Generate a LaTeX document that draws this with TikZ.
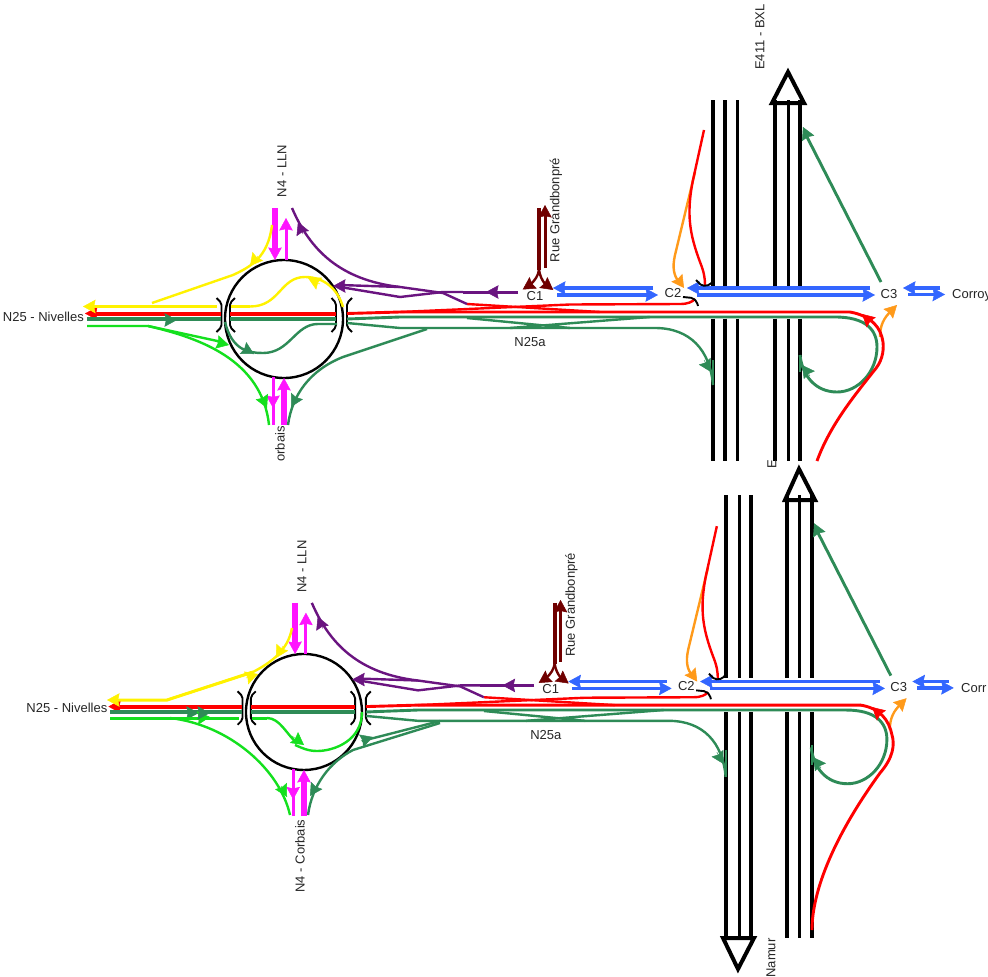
\documentclass[tikz,border=0pt]{standalone}
\usepackage{fontspec}
\setmainfont{Liberation Sans}
\usetikzlibrary{arrows.meta}
\definecolor{dgreen}{HTML}{2E8B57}
\definecolor{bgreen}{HTML}{14E01E}
\definecolor{road}{HTML}{FF0000}
\definecolor{ored}{HTML}{FF9A1A}
\definecolor{blu}{HTML}{3366FF}
\definecolor{purp}{HTML}{6A1480}
\definecolor{maro}{HTML}{700000}
\definecolor{yell}{HTML}{FFF200}
\definecolor{mage}{HTML}{FF14FF}
\tikzset{
  ah/.style={-{Stealth[length=12.5pt,width=13.5pt,inset=1.5pt]}},
  roadline/.style={line width=2.4pt},
  wideline/.style={line width=2.9pt},
  mainline/.style={line width=4pt},
  lane/.style={line width=4pt,black},
  lanethin/.style={line width=3pt,black},
  brack/.style={line width=1.9pt,black,rounded corners=2pt},
  lbl/.style={font=\fontsize{13}{13}\selectfont,text=black!85,inner sep=0pt},
  vlbl/.style={lbl,rotate=90},
}
\newcommand{\tipat}[3]{\draw[#1,ah,line width=.5pt] (#2) -- (#3);}
% parts that both panels share
\newcommand{\junction}{%
  \draw[black,line width=2.4pt] (284,319) circle (59);
  \foreach \a/\b in {216.5/221.5,352/347,235/230,331.5/336}{
    \draw[brack] (\a,298) -- (\b,303) -- (\b,327) -- (\a,332);}
  % N4
  \draw[mage,line width=6pt] (275,208) -- (275,250);
  \tipat{mage}{275,245}{275,260}
  \draw[mage,line width=3pt] (286,260) -- (286,225);
  \tipat{mage}{286,231}{286,218}
  \draw[mage,line width=3pt] (273,377) -- (273,425);
  \tipat{mage}{273,395}{273,408}
  \draw[mage,line width=6pt] (284,425) -- (284,386);
  \tipat{mage}{284,392}{284,378}
  % N25 through lanes
  \draw[road,mainline] (92,313.5) -- (221,313.5) (230,313.5) -- (336,313.5);
  \tipat{road}{97,313.5}{85,313.5}
  \draw[dgreen,mainline] (87,319) -- (221,319) (230,319) -- (336,319);
  \tipat{dgreen}{165,320}{177,320}
  % N25a, red
  \draw[road,wideline] (347,313.5) -- (400,312) -- (850,312);
  \draw[road,roadline] (400,312) -- (570,304.5) -- (680,304) .. controls (688,304) and (692,302) .. (695,299);
  \draw[road,roadline] (467,304) -- (600,312);
  % N25a, green
  \draw[dgreen,wideline] (347,319) -- (400,317) -- (835,317)
     .. controls (866,317) and (877,330) .. (877,347)
     .. controls (877,372) and (858,392) .. (837,392)
     .. controls (815,392) and (802,375) .. (800,355);
  \tipat{dgreen}{810,376}{802,365}
  \draw[dgreen,roadline] (347,323) -- (400,328) -- (655,328)
     .. controls (690,328) and (710,350) .. (713,385);
  \tipat{dgreen}{704,360}{711,372}
  \draw[dgreen,roadline] (467,318) -- (570,328) (510,328) -- (650,317);
  % purple
  \draw[purp,line width=3pt] (518,292) -- (463,292);
  \tipat{purp}{498,292}{486,292}
  \draw[purp,roadline] (467,304) -- (443,293) -- (400,287) -- (340,285);
  \draw[purp,roadline] (463,292) -- (443,292) -- (400,297) -- (340,287);
  \tipat{purp}{345,286}{333,286}
  \draw[purp,roadline] (400,287) .. controls (340,280) and (310,250) .. (292,208);
  \tipat{purp}{303,234}{298,222}
  % maroon
  \draw[maro,line width=4pt] (539,208) -- (539,270);
  \draw[maro,line width=3pt] (545,268) -- (545,215);
  \tipat{maro}{545,218}{545,205}
  \draw[maro,roadline] (539,270) .. controls (538,276) and (535,280) .. (531,284);
  \tipat{maro}{532,283.5}{522.7,289.5}
  \draw[maro,roadline] (539,270) .. controls (540,276) and (542,280) .. (545,284);
  \tipat{maro}{544,283}{553.3,290}
  % blue
  \draw[blu,line width=3.2pt] (653,288) -- (562,288);
  \tipat{blu}{566,288}{553,288}
  \draw[blu,line width=3.2pt] (557,295) -- (648,295);
  \tipat{blu}{645,295}{658,295}
  \draw[blu,line width=3.2pt] (870,288) -- (697,288);
  \tipat{blu}{700,288}{687,288}
  \draw[blu,line width=3.2pt] (697,295) -- (865,295);
  \tipat{blu}{862,295}{875,295}
  \draw[blu,line width=3.2pt] (940,288) -- (912,288);
  \tipat{blu}{916,288}{903,288}
  \draw[blu,line width=3.2pt] (908,294.5) -- (935,294.5);
  \tipat{blu}{932,294.5}{945,294.5}
  % orange and red at C2
  \draw[ored,roadline] (695,172) -- (675,255) .. controls (672,268) and (674,276) .. (679,282);
  \tipat{ored}{677,278}{684,288}
  \draw[road,roadline] (704,130) -- (693,180) .. controls (686,215) and (690,235) .. (700,262) .. controls (704,272) and (705,278) .. (705,285);
  \draw[brack] (696,280) -- (702,286) -- (710,285) -- (712,282);
  \draw[brack] (683,297) -- (693,298) -- (697,302) -- (698,306);
  % C3
  \draw[ored,roadline] (880,337) .. controls (880,325) and (884,318) .. (891,311);
  \tipat{ored}{888,314}{897,305}
  \tipat{road}{873,324}{862,314}
  \draw[dgreen,wideline] (881,282) -- (806,135);
  \tipat{dgreen}{808,138}{803,127}
  % labels
  \node[vlbl] (lln) at (282,171) {N4 - LLN};
  \node[vlbl] (grand) at (556,210) {Rue Grandbonpré};
  \node[lbl] (c1) at (535,296) {C1};
  \node[lbl] (c2) at (673,293) {C2};
  \node[lbl] (c3) at (889,294) {C3};
  \node[lbl] (n25a) at (530,342) {N25a};
}
\begin{document}
\begin{tikzpicture}[x=1pt,y=-1pt]
\useasboundingbox (0,0) rectangle (988,977);
\clip (0,0) rectangle (988,977);
\fill[white] (0,0) rectangle (988,977);

% ---------- upper panel ----------
\foreach \x/\s in {713/lane,725/lane,737/lanethin,775/lane,788/lanethin,800/lane}{
  \draw[\s] (\x,100) -- (\x,287) (\x,318.5) -- (\x,461);}
\draw[black,line width=4pt,line join=miter] (788,72) -- (804,103) -- (772,103) -- cycle;
\junction
\draw[dgreen,wideline] (713,360) -- (713,385);
\draw[dgreen,wideline] (800,355) -- (800,372);
% red from the south
\draw[road,wideline] (817,461) .. controls (830,425) and (855,395) .. (873,372)
  .. controls (882,362) and (884,352) .. (883,342) .. controls (881,328) and (872,316) .. (850,312);
% yellow
\draw[yell,line width=3pt] (92,306.5) -- (217,306.5) (231,306.5) -- (250,306.5);
\tipat{yell}{96,306.5}{83,306.5}
\draw[yell,roadline] (343,307) .. controls (338,290) and (325,277) .. (305,277)
  .. controls (280,277) and (280,306.5) .. (250,306.5);
\tipat{yell}{320,284}{308,278}
\draw[yell,roadline] (272,225) .. controls (268,258) and (250,267) .. (233,275) -- (152,303);
\tipat{yell}{258,256}{250,266}
% bright green
\draw[bgreen,roadline] (87,326) -- (148,326) -- (222,342);
\tipat{bgreen}{217,342}{229,345}
\draw[bgreen,roadline] (148,326) .. controls (200,338) and (262,360) .. (269,425);
\tipat{bgreen}{262,397}{267,408}
% green inside the circle
\draw[dgreen,roadline] (337,324) -- (318,324) .. controls (295,324) and (290,353) .. (263,353)
  .. controls (248,353) and (232,350) .. (225,322);
\tipat{dgreen}{243,348}{254,354}
% green to N4 south
\draw[dgreen,roadline] (427,329) -- (343,357) .. controls (310,370) and (292,395) .. (288,425);
\tipat{dgreen}{297,396}{291,407}
% labels
\node[lbl,anchor=east] (niv1) at (84,317) {N25 - Nivelles};
\node[vlbl] (corb1) at (280,444) {orbais};
\node[vlbl] (e411) at (760,37) {E411 - BXL};
\node[vlbl] (e1) at (772,464) {E};
\node[lbl,anchor=west] (cor1) at (952,295) {Corroy};

% ---------- lower panel ----------
\foreach \x/\s in {726/lane,739/lanethin,751/lane,787/lane,799/lanethin,812/lane}{
  \draw[\s] (\x,495) -- (\x,678) (\x,712) -- (\x,938);}
\draw[black,line width=4pt,line join=miter] (799,469) -- (815,500) -- (785,500) -- cycle;
\draw[black,line width=4pt,line join=miter] (738,969) -- (723,938) -- (754,938) -- cycle;
\begin{scope}[shift={(24.8,398.4)},scale=.983]
\junction
\end{scope}
\draw[dgreen,wideline] (726,750) -- (726,777);
\draw[dgreen,wideline] (812,745) -- (812,765);
\draw[road,wideline] (812,930) .. controls (812,890) and (835,835) .. (880,773)
  .. controls (893,758) and (895,745) .. (892,735) .. controls (889,720) and (880,708) .. (860,705);
% yellow
\draw[yell,line width=3pt] (115,700) -- (167,700) -- (253,672);
\tipat{yell}{119,700}{107,700}
\draw[yell,roadline] (292,628) .. controls (288,650) and (272,662) .. (253,672) -- (167,700);
\tipat{yell}{283,646}{276,658}
\tipat{yell}{246,678}{258,674}
% bright green
\draw[bgreen,line width=3pt] (110,718) -- (239,718) (252,718) -- (267,718);
\tipat{bgreen}{198,718}{210,717}
\tipat{dgreen}{198,713}{210,713}
\draw[bgreen,roadline] (267,718) .. controls (280,718) and (287,735) .. (297,743);
\tipat{bgreen}{292,736}{304,745}
\draw[bgreen,roadline] (362,712) .. controls (362,740) and (335,751) .. (317,751)
  .. controls (308,751) and (302,748) .. (295,745);
\draw[bgreen,roadline] (170,718) .. controls (230,725) and (280,770) .. (290,815);
\tipat{bgreen}{281,786}{287,797}
% dark green to the circle and N4 south
\draw[dgreen,roadline] (440,723) -- (353,750) .. controls (330,762) and (312,785) .. (308,815);
\tipat{dgreen}{317,785}{310,796}
\draw[dgreen,roadline] (440,721) -- (362,741);
\tipat{dgreen}{361,741}{373,737}
% labels
\node[lbl,anchor=east] (niv2) at (107.5,708) {N25 - Nivelles};
\node[vlbl] (corb2) at (300,856) {N4 - Corbais};
\node[vlbl] (namur) at (771,958) {Namur};
\node[lbl,anchor=west] (cor2) at (961,688) {Corr};
\end{tikzpicture}
\end{document}
